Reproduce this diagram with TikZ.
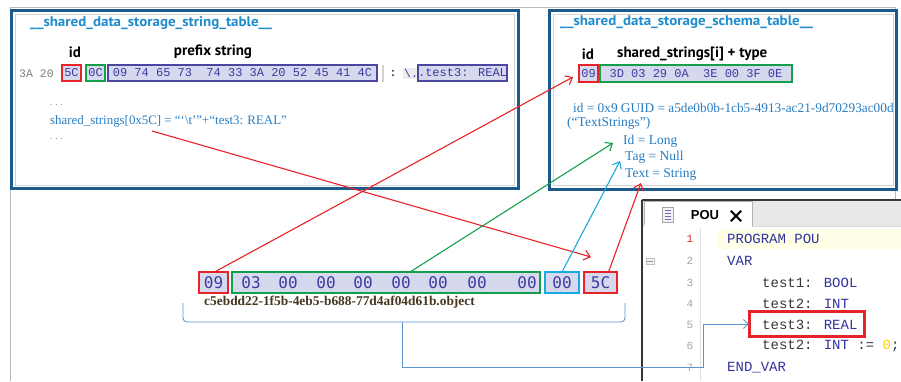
\documentclass[tikz,border=0pt]{standalone}
\usepackage{fontspec}
\setmainfont{Liberation Serif}
\newfontfamily\titlefont{PT Sans}
\newfontfamily\hexfont{Liberation Mono}
\newfontfamily\bytefont{DejaVu Sans Mono}
\newfontfamily\uifont{Liberation Sans}
\usetikzlibrary{arrows.meta,calc}
\definecolor{frameblue}{RGB}{28,90,140}
\definecolor{titleblue}{RGB}{30,140,205}
\definecolor{txtblue}{RGB}{40,125,195}
\definecolor{myred}{RGB}{232,35,40}
\definecolor{mygreen}{RGB}{20,160,75}
\definecolor{mycyan}{RGB}{25,170,225}
\definecolor{hexpurple}{RGB}{75,70,160}
\definecolor{hexfill}{RGB}{214,216,238}
\definecolor{bytetxt}{RGB}{60,60,160}
\definecolor{bracecol}{RGB}{90,150,205}
\definecolor{kwblue}{RGB}{50,50,160}
\definecolor{codegray}{RGB}{55,55,55}
\definecolor{objcol}{RGB}{70,55,30}
\tikzset{
  panel/.style={draw=frameblue, line width=3pt, inner sep=0, outer sep=0, anchor=north west},
  ttl/.style={anchor=west, font=\titlefont\bfseries\fontsize{14}{14}\selectfont, text=titleblue, inner sep=0},
  hdr/.style={font=\titlefont\bfseries\fontsize{15}{15}\selectfont, inner sep=0},
  hexplain/.style={font=\hexfont\fontsize{11.5}{11.5}\selectfont, text=gray, inner sep=0},
  hexbox/.style={draw=#1, line width=1.6pt, fill=hexfill, inner sep=0, outer sep=0, anchor=north west,
     font=\hexfont\fontsize{12}{12}\selectfont, text=bytetxt},
  bigbox/.style={draw=#1, line width=2pt, fill=hexfill, inner sep=0, outer sep=0, anchor=north west,
     minimum height=21},
  bytetext/.style={font=\bytefont\fontsize{16}{16}\selectfont, text=bytetxt, inner sep=0},
  bluetxt/.style={font=\fontsize{13.5}{13.5}\selectfont, text=txtblue, inner sep=0, anchor=west},
  arr/.style={draw=#1, line width=1.1pt, -{Straight Barb[length=6pt,width=10pt,line width=1.1pt]}},
  code/.style={font=\hexfont\fontsize{14}{14}\selectfont, text=codegray, inner sep=0, anchor=west},
  lnum/.style={font=\hexfont\fontsize{11}{11}\selectfont, text=gray!70, inner sep=0},
}
\begin{document}
\begin{tikzpicture}[x=1pt,y=-1pt]
\useasboundingbox (0,0) rectangle (901,381);
\fill[white] (0,0) rectangle (901,381);
% outer frame
\draw[gray!55, line width=0.8pt] (10,381) -- (10,7) -- (895,7) -- (895,200);

% ===== left panel =====
\node[panel, minimum width=506.5, minimum height=178] (lpanel) at (11.5,10.5) {};
\draw[gray!35, line width=0.6pt] (15,14) rectangle (514.5,185);
\node[ttl] (ltitle) at (30,23) {\scalebox{1.07}[1]{\_\_shared\_data\_storage\_string\_table\_\_}};
\node[hdr] (lid) at (75,52) {id};
\node[hdr] (lprefix) at (213,52) {prefix string};
\node[hexplain, anchor=west] (l3a) at (19,73.5) {3A 20};
\node[hexbox=myred, minimum width=19, minimum height=16] (l5c) at (62,65) {5C};
\node[hexbox=mygreen, minimum width=19, minimum height=16] (l0c) at (86,65) {0C};
\node[hexbox=hexpurple, minimum width=269, minimum height=16] (lstr) at (108,65) {09 74 65 73\ \ 74 33 3A 20 52 45 41 4C};
\draw[gray!35, line width=1.2pt] (383,65) -- (383,82);
\node[hexplain, text=black] (lcolon) at (393,73.5) {:};
\node[hexplain, fill=gray!15, text=bytetxt, inner sep=1pt] (lbs) at (411,73.5) {\textbackslash.};
\node[hexbox=hexpurple, minimum width=89, minimum height=16] (lascii) at (418,65) {.test3: REAL};
\node[bluetxt, font=\fontsize{9}{9}\selectfont] (ldots1) at (50,105) {. . .};
\node[bluetxt, font=\fontsize{12.9}{12.9}\selectfont] (lss) at (50,121) {shared\_strings[0x5C] = “‘\textbackslash t’”+“test3: REAL”};
\node[bluetxt, font=\fontsize{9}{9}\selectfont] (ldots2) at (50,139) {. . .};

% ===== right panel =====
\node[panel, minimum width=347, minimum height=178.5] (rpanel) at (549.5,10.5) {};
\draw[gray!35, line width=0.6pt] (553,14) rectangle (893.5,185.5);
\node[ttl] (rtitle) at (560,22) {\scalebox{1.07}[1]{\_\_shared\_data\_storage\_schema\_table\_\_}};
\node[hdr] (rid) at (588,54) {id};
\node[hdr, anchor=west] (rshared) at (617,54) {shared\_strings[i] + type};
\node[hexbox=myred, minimum width=19, minimum height=17] (r09) at (579,65) {09};
\node[hexbox=mygreen, minimum width=192, minimum height=17] (rstr) at (600,65) {3D 03 29 0A\ \ 3E 00 3F 0E};
\node[bluetxt, font=\fontsize{13.3}{13.3}\selectfont] (rguid) at (573,108) {id = 0x9 GUID = a5de0b0b-1cb5-4913-ac21-9d70293ac00d};
\node[bluetxt] (rts) at (567,123) {(“TextStrings”)};
\node[bluetxt] (ridl) at (623,141) {Id = Long};
\node[bluetxt] (rtag) at (625,157) {Tag = Null};
\node[bluetxt] (rtext) at (625,174) {Text = String};

% ===== bottom bytes =====
\node[bigbox=myred, minimum width=29] (b09) at (199,272) {};
\node[bytetext] (t09) at (b09.center) {09};
\node[bigbox=mygreen, minimum width=308] (bgreen) at (232,272) {};
\foreach \xx/\tt [count=\i] in {251/03,288/00,326/00,363/00,401/00,438/00,477/00,527/00}
  \node[bytetext] (g\i) at (\xx,282.5) {\tt};
\node[bigbox=mycyan, minimum width=34] (bcyan) at (545,272) {};
\node[bytetext] (t00) at (bcyan.center) {00};
\node[bigbox=myred, minimum width=33] (b5c) at (584,272) {};
\node[bytetext] (t5c) at (b5c.center) {5C};
\node[font=\bfseries\fontsize{13.4}{13.4}\selectfont, text=objcol, inner sep=0, anchor=west] (objname) at (204,302) {c5ebdd22-1f5b-4eb5-b688-77d4af04d61b.object};

% brace
\coordinate (bt) at (402.5,322);
\draw[bracecol, line width=0.9pt, rounded corners=4pt] (183,303) |- (bt);
\draw[bracecol, line width=0.9pt, rounded corners=4pt] (625,303) |- (bt);

% ===== POU panel =====
\fill[white] (642,200) rectangle (901,381);
\fill[gray!18] (642,200) rectangle (901,226);
\node[draw=gray!60, fill=white, line width=0.6pt, minimum width=108, minimum height=25, inner sep=0, outer sep=0, anchor=north west] (tab) at (644,201) {};
\draw[gray!30, line width=0.5pt] (642,226) -- (901,226);
\fill[white] (644,225) rectangle (752,227);
\draw[codegray, line width=1.2pt] (642,200) -- (901,200);
\draw[codegray, line width=1.2pt] (642,200) -- (642,381);
% icon
\node[draw=gray!70, fill=gray!10, line width=0.6pt, minimum width=11, minimum height=15, inner sep=0, outer sep=0] (icon) at (668,215) {};
\foreach \yy in {210,213,216,219}
  \draw[kwblue!70, line width=0.8pt] (665,\yy) -- (671,\yy);
\node[font=\uifont\bfseries\fontsize{13}{13}\selectfont, inner sep=0] (poutab) at (705,215.5) {POU};
\node[inner sep=0, minimum size=10] (closex) at (736,216) {};
\draw[black, line width=1.8pt] (closex.north west) -- (closex.south east) (closex.north east) -- (closex.south west);
% highlight line 1
\fill[yellow!10] (718,229) rectangle (901,249);
\draw[gray!25, line width=0.6pt] (700,228) -- (700,381);
% fold marker
\node[draw=gray!50, fill=gray!10, minimum width=8, minimum height=6, inner sep=0] (fold) at (650,261) {};
\draw[gray!80, line width=1pt] (647,261) -- (653,261);
% line numbers
\node[lnum, text=myred] (n1) at (690,239) {1};
\foreach \yy/\nn in {261/2,283/3,304/4,325/5,346/6,368/7}
  \node[lnum] (n\nn) at (690,\yy) {\nn};
% code
\node[code, text=kwblue] (c1) at (727,239) {PROGRAM POU};
\node[code, text=kwblue] (c2) at (727,261) {VAR};
\node[code] (c3) at (762,283) {test1: \textcolor{kwblue}{BOOL}};
\node[code] (c4) at (762,304) {test2: \textcolor{kwblue}{INT}};
\node[code] (c5) at (762,325) {test3: \textcolor{kwblue}{REAL}};
\node[code] (c6) at (762,346) {test2: \textcolor{kwblue}{INT} := \textcolor{yellow!70!orange}{0};};
\node[code, text=kwblue] (c7) at (727,368) {END\_VAR};
\node[draw=myred, line width=3pt, minimum width=115, minimum height=25, inner sep=0, outer sep=0, anchor=north west] (t3box) at (749,311.5) {};

% ===== connectors =====
\coordinate (corner) at (703,367);
\draw[bracecol, line width=0.9pt, -{Straight Barb[length=5pt,width=9pt,line width=0.9pt]}] (bt) |- (corner) |- (t3box.west);

\coordinate (a1s) at (152,131);
\coordinate (a1e) at (591,257);
\draw[arr=myred] (a1s) -- (a1e);
\coordinate (a2s) at ($(b09.north)+(1,0)$);
\coordinate (a2e) at (573,77);
\draw[arr=myred] (a2s) -- (a2e);
\coordinate (a3s) at ($(bgreen.north)+(24,0)$);
\coordinate (a3e) at (613,143);
\draw[arr=mygreen] (a3s) -- (a3e);
\coordinate (a4e) at (620,161);
\draw[arr=mycyan] (bcyan.north) -- (a4e);
\coordinate (a5s) at ($(b5c.north)+(8,0)$);
\coordinate (a5e) at (641,183);
\draw[arr=myred] (a5s) -- (a5e);
\end{tikzpicture}
\end{document}
